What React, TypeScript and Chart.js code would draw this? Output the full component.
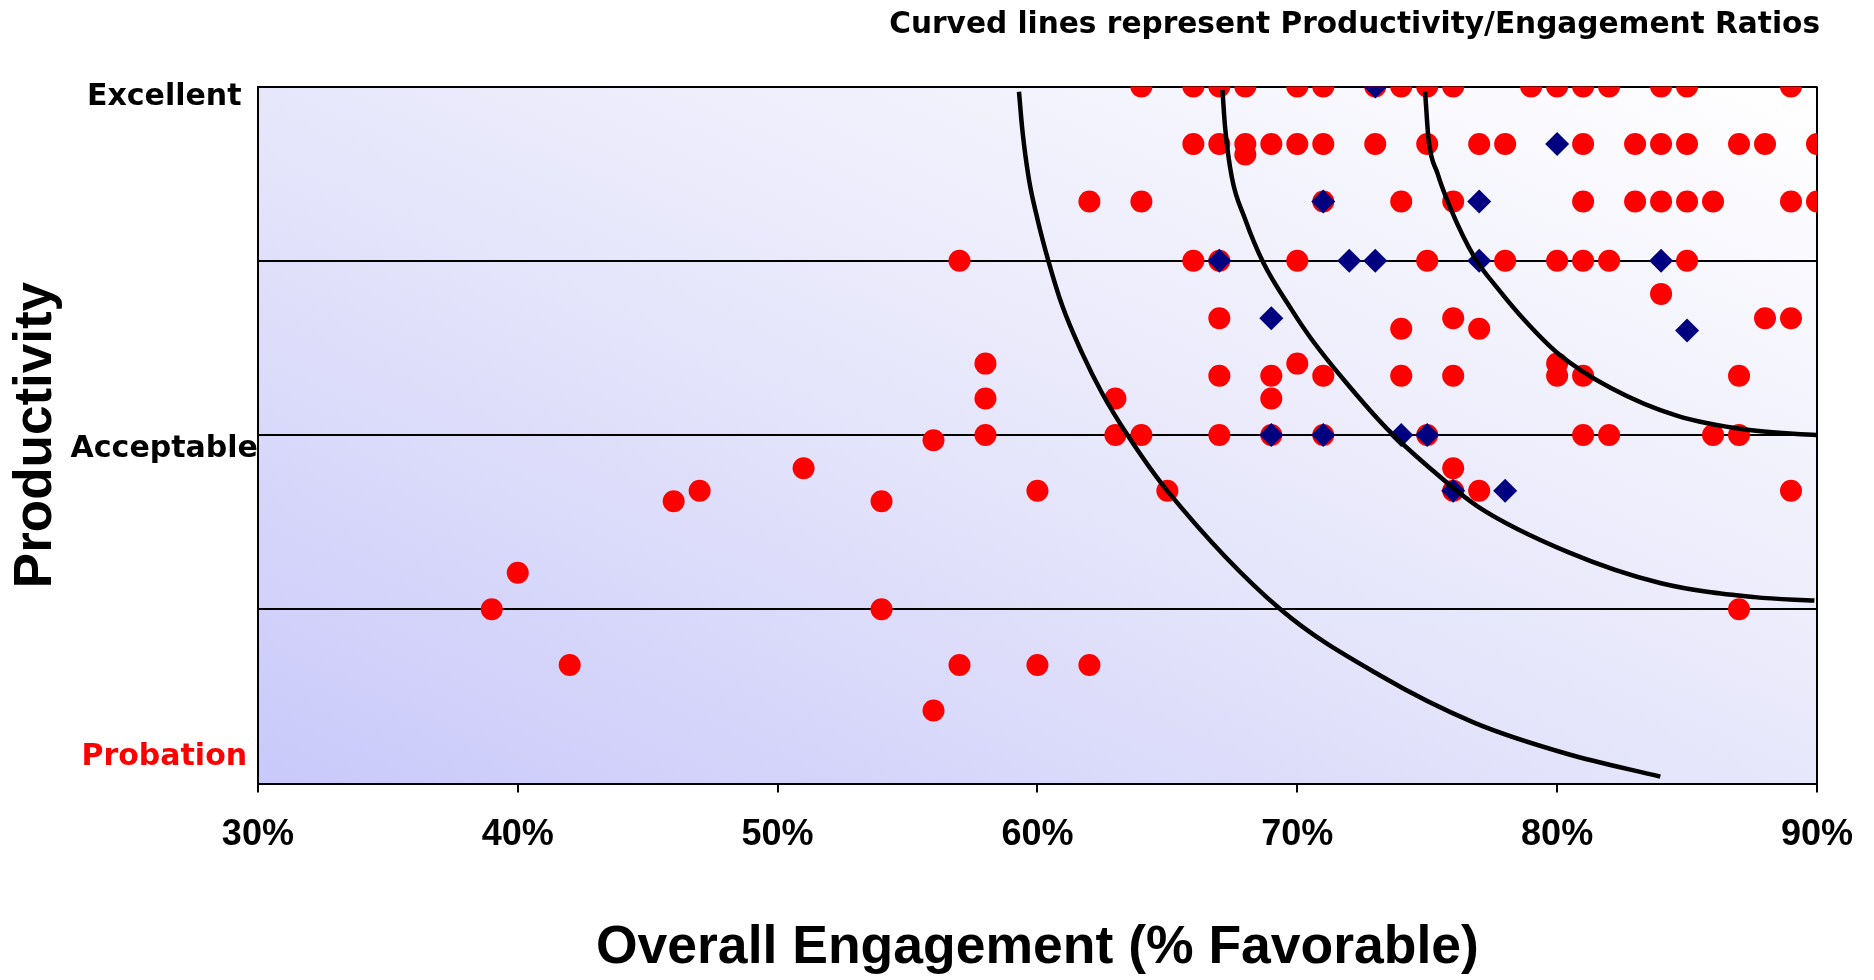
import React, { useEffect, useRef } from 'react';
import { Chart, registerables } from 'chart.js';

Chart.register(...registerables);

// ---- Axis / label data ----
const chartTitle = 'Curved lines represent Productivity/Engagement Ratios';
const xAxisTitle = 'Overall Engagement (% Favorable)';
const yAxisTitle = 'Productivity';
const xMin = 30;
const xMax = 90;
const xStep = 10;
const yMin = 1;
const yMax = 5;
const yLevelLabels = ['Excellent', 'Acceptable', 'Probation'];
const yLevelAt = [4.94, 2.92, 1.15];
const yLevelColors = ['#000000', '#000000', '#FF0000'];

// ---- Red circles: [engagement %, productivity] ----
const redTopRows: Array<[number, number]> = [
  [64, 5], [66, 5], [67, 5], [68, 5], [70, 5], [71, 5], [73, 5], [74, 5], [75, 5], [76, 5],
  [79, 5], [80, 5], [81, 5], [82, 5], [84, 5], [85, 5], [89, 5],
  [66, 4.67], [67, 4.67], [68, 4.67], [68, 4.61], [69, 4.67], [70, 4.67], [71, 4.67], [73, 4.67],
  [75, 4.67], [77, 4.67], [78, 4.67], [81, 4.67], [83, 4.67], [84, 4.67], [85, 4.67], [87, 4.67],
  [88, 4.67], [90, 4.67],
  [62, 4.34], [64, 4.34], [71, 4.34], [74, 4.34], [76, 4.34], [81, 4.34], [83, 4.34], [84, 4.34],
  [85, 4.34], [86, 4.34], [89, 4.34], [90, 4.34],
  [57, 4], [66, 4], [67, 4], [70, 4], [75, 4], [78, 4], [80, 4], [81, 4], [82, 4], [85, 4],
];
const redMiddleRows: Array<[number, number]> = [
  [84, 3.81], [67, 3.67], [76, 3.67], [88, 3.67], [89, 3.67], [74, 3.61], [77, 3.61],
  [58, 3.41], [70, 3.41], [80, 3.41],
  [67, 3.34], [69, 3.34], [71, 3.34], [74, 3.34], [76, 3.34], [80, 3.34], [81, 3.34], [87, 3.34],
  [58, 3.21], [63, 3.21], [69, 3.21],
  [56, 2.97], [58, 3], [63, 3], [64, 3], [67, 3], [69, 3], [71, 3], [75, 3], [81, 3], [82, 3],
  [86, 3], [87, 3],
];
const redLowRows: Array<[number, number]> = [
  [51, 2.81], [76, 2.81],
  [47, 2.68], [60, 2.68], [65, 2.68], [76, 2.68], [77, 2.68], [89, 2.68],
  [46, 2.62], [54, 2.62],
  [40, 2.21],
  [39, 2], [54, 2], [87, 2],
  [42, 1.68], [57, 1.68], [60, 1.68], [62, 1.68],
  [56, 1.42],
];

// ---- Navy diamonds ----
const blueDiamonds: Array<[number, number]> = [
  [73, 5], [80, 4.67], [71, 4.34], [77, 4.34],
  [67, 4], [72, 4], [73, 4], [77, 4], [84, 4],
  [69, 3.67], [85, 3.6],
  [69, 3], [71, 3], [74, 3], [75, 3],
  [76, 2.68], [78, 2.68],
];

// ---- Productivity/Engagement ratio curves ----
const ratioCurve1: Array<[number, number]> = [
  [59.29, 4.97], [59.42, 4.75], [59.67, 4.47], [60.0, 4.24], [60.42, 4.0], [60.96, 3.74],
  [61.72, 3.47], [62.49, 3.24], [63.51, 2.99], [65.0, 2.68], [69.35, 2.0], [73.19, 1.62],
  [76.8, 1.35], [80.4, 1.17], [83.97, 1.04],
];
const ratioCurve2: Array<[number, number]> = [
  [67.12, 4.98], [67.22, 4.77], [67.48, 4.48], [67.99, 4.24], [68.69, 3.99], [69.78, 3.72],
  [70.55, 3.55], [71.83, 3.31], [73.43, 3.04], [75.03, 2.82], [76.95, 2.59], [80.4, 2.33],
  [84.0, 2.15], [87.6, 2.07], [89.9, 2.05],
];
const ratioCurve3: Array<[number, number]> = [
  [74.92, 4.97], [75.05, 4.7], [75.4, 4.5], [75.9, 4.3], [76.82, 4.02], [77.72, 3.84],
  [78.74, 3.66], [80.02, 3.47], [82.07, 3.27], [84.63, 3.11], [87.32, 3.03], [89.98, 3.0],
];

const toXY = (pts: Array<[number, number]>) => pts.map(([x, y]) => ({ x, y }));

const plotBackground = {
  id: 'plotBackground',
  beforeDraw(chart: any) {
    const { ctx, chartArea: a } = chart;
    if (!a) return;
    const W = a.right - a.left;
    const H = a.bottom - a.top;
    const k = 2 / (1 / (W * W) + 1 / (H * H));
    const g = ctx.createLinearGradient(a.left, a.bottom, a.left + k / W, a.bottom - k / H);
    g.addColorStop(0, '#C9C9FA');
    g.addColorStop(0.5, '#E7E7FB');
    g.addColorStop(1, '#FFFFFF');
    ctx.save();
    ctx.fillStyle = g;
    ctx.fillRect(a.left, a.top, W, H);
    ctx.restore();
  },
};

export default function App() {
  const ref = useRef<HTMLCanvasElement>(null);

  useEffect(() => {
    if (!ref.current) return;
    const curveStyle = {
      showLine: true,
      borderColor: '#000000',
      borderWidth: 4.5,
      pointRadius: 0,
      pointHoverRadius: 0,
      fill: false,
      cubicInterpolationMode: 'monotone' as const,
      order: 0,
    };
    const chart = new Chart(ref.current, {
      type: 'scatter',
      data: {
        datasets: [
          { ...curveStyle, label: 'Ratio 1', data: toXY(ratioCurve1) },
          { ...curveStyle, label: 'Ratio 2', data: toXY(ratioCurve2) },
          { ...curveStyle, label: 'Ratio 3', data: toXY(ratioCurve3) },
          {
            label: 'Diamonds',
            data: toXY(blueDiamonds),
            pointStyle: 'rectRot',
            pointRadius: 12,
            backgroundColor: '#000080',
            borderWidth: 0,
            order: 1,
          },
          {
            label: 'Circles',
            data: toXY([...redTopRows, ...redMiddleRows, ...redLowRows]),
            pointStyle: 'circle',
            pointRadius: 11,
            backgroundColor: '#FF0000',
            borderWidth: 0,
            order: 2,
          },
        ] as any,
      },
      options: {
        responsive: false,
        animation: false,
        devicePixelRatio: 1,
        layout: { padding: { left: 0, right: 54, top: 0, bottom: 0 } },
        plugins: {
          legend: { display: false },
          tooltip: { enabled: false },
          title: {
            display: true,
            text: chartTitle,
            align: 'end',
            color: '#000000',
            font: { family: 'DejaVu Sans', size: 29.6, weight: 'bold' },
            padding: { top: 8, bottom: 43 },
          },
        },
        scales: {
          x: {
            type: 'linear',
            min: xMin,
            max: xMax,
            position: 'bottom',
            ticks: {
              stepSize: xStep,
              callback: (v: any) => `${v}%`,
              color: '#000000',
              font: { family: 'Liberation Sans', size: 36, weight: 'bold' },
              padding: 21,
              maxRotation: 0,
              autoSkip: false,
            },
            grid: {
              drawOnChartArea: true,
              color: (c: any) => (c.tick && c.tick.value === xMax ? '#000000' : 'rgba(0,0,0,0)'),
              tickColor: '#000000',
              tickLength: 9,
              lineWidth: 2,
            },
            border: { display: true, color: '#000000', width: 2 },
            title: {
              display: true,
              text: xAxisTitle,
              color: '#000000',
              font: { family: 'Liberation Sans', size: 53.5, weight: 'bold' },
              padding: { top: 38, bottom: 0 },
            },
          },
          y: {
            type: 'linear',
            min: yMin,
            max: yMax,
            position: 'left',
            afterBuildTicks: (axis: any) => {
              axis.ticks = yLevelAt.map((v) => ({ value: v }));
            },
            ticks: {
              callback: (_v: any, i: number) => yLevelLabels[i],
              color: (c: any) => yLevelColors[c.index] || '#000000',
              font: { family: 'DejaVu Sans', size: 30, weight: 'bold' },
              padding: 0,
              crossAlign: 'center',
              autoSkip: false,
            },
            grid: { display: false, drawTicks: false },
            border: { display: true, color: '#000000', width: 2 },
            title: {
              display: true,
              text: yAxisTitle,
              color: '#000000',
              font: { family: 'Liberation Sans', size: 53, weight: 'bold' },
              padding: { top: 4.2, bottom: 2.8 },
            },
          },
          yGrid: {
            type: 'linear',
            min: yMin,
            max: yMax,
            position: 'left',
            ticks: { display: false, stepSize: 1 },
            grid: { color: '#000000', lineWidth: 2, drawTicks: false },
            border: { display: false },
          },
        } as any,
      },
      plugins: [plotBackground],
    });
    return () => chart.destroy();
  }, []);

  return (
    <canvas
      ref={ref}
      width={1874}
      height={980}
      style={{ position: 'absolute', left: 0, top: 0, display: 'block' }}
    />
  );
}
